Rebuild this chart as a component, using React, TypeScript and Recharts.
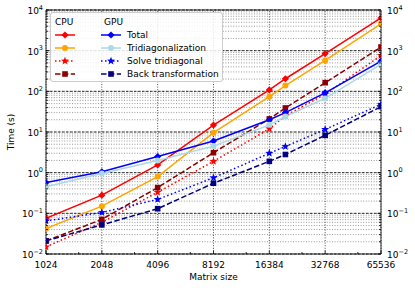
import { LineChart, Line, XAxis, YAxis, CartesianGrid, ReferenceLine } from 'recharts'

// matrix sizes (x) and timings in seconds (y)
const sizes = [1024, 2048, 4096, 8192, 16384, 20000, 32768, 65536]

const cpuTotal = [0.075, 0.28, 1.55, 14.8, 108, 204, 850, 6400]
const cpuTridiag = [0.042, 0.15, 0.8, 9.6, 74, 139, 575, 4570]
const cpuSolve = [0.015, 0.06, 0.33, 1.9, 12, 25, 85, 760]
const cpuBack = [0.021, 0.071, 0.43, 3.1, 21, 39, 163, 1230]
const gpuTotal = [0.57, 1.05, 2.5, 6.0, 20, 30, 92, 550]
const gpuTridiag = [0.45, 0.95, 2.0, 4.5, 15, 24, 67, 460]
const gpuSolve = [0.065, 0.105, 0.22, 0.75, 3.0, 4.4, 11.6, 48]
const gpuBack = [0.021, 0.052, 0.13, 0.55, 1.9, 2.8, 8.3, 42]

const xMajor = [1024, 2048, 4096, 8192, 16384, 32768, 65536]
const xMinor = [1536, 3072, 6144, 12288, 24576, 49152]
const yMajorExp = [-2, -1, 0, 1, 2, 3, 4]
const yMinorMult = [2, 3, 4, 5, 6, 7, 8, 9]
const rowLabels = ['Total', 'Tridiagonalization', 'Solve tridiagonal', 'Back transformation']

const FONT = '"DejaVu Sans", sans-serif'
const DOTTED = '1.5 2.5'
const DASHED = '5.5 2.4'

const yMajor = yMajorExp.map(e => Math.pow(10, e))
const yMinor = yMajorExp.slice(0, -1).flatMap(e => yMinorMult.map(m => m * Math.pow(10, e)))
const yTicks = [...yMajor, ...yMinor].sort((a, b) => a - b)
const xTicks = [...xMajor, ...xMinor].sort((a, b) => a - b)

const series = [
  { key: 'cpuTotal', values: cpuTotal, color: '#ff0000', dash: undefined, marker: 'diamond' },
  { key: 'cpuTridiag', values: cpuTridiag, color: '#ffa500', dash: undefined, marker: 'circle' },
  { key: 'cpuSolve', values: cpuSolve, color: '#ff0000', dash: DOTTED, marker: 'star' },
  { key: 'cpuBack', values: cpuBack, color: '#8b0000', dash: DASHED, marker: 'square' },
  { key: 'gpuTotal', values: gpuTotal, color: '#0000ff', dash: undefined, marker: 'diamond' },
  { key: 'gpuTridiag', values: gpuTridiag, color: '#add8e6', dash: undefined, marker: 'circle' },
  { key: 'gpuSolve', values: gpuSolve, color: '#0000ff', dash: DOTTED, marker: 'star' },
  { key: 'gpuBack', values: gpuBack, color: '#000080', dash: DASHED, marker: 'square' },
]

const rows = sizes.map((n, i) => {
  const r: Record<string, number> = { n }
  series.forEach(s => { r[s.key] = s.values[i] })
  return r
})

function Marker({ kind, cx, cy, color }: { kind: string; cx: number; cy: number; color: string }) {
  if (kind === 'diamond') {
    const d = 3.6
    return <path d={`M${cx},${cy - d}L${cx + d},${cy}L${cx},${cy + d}L${cx - d},${cy}Z`} fill={color} />
  }
  if (kind === 'circle') return <circle cx={cx} cy={cy} r={3} fill={color} />
  if (kind === 'square') return <rect x={cx - 2.8} y={cy - 2.8} width={5.6} height={5.6} fill={color} />
  // star
  const pts: string[] = []
  for (let k = 0; k < 10; k++) {
    const r = k % 2 === 0 ? 4.2 : 1.8
    const a = -Math.PI / 2 + (k * Math.PI) / 5
    pts.push(`${cx + r * Math.cos(a)},${cy + r * Math.sin(a)}`)
  }
  return <polygon points={pts.join(' ')} fill={color} />
}

function XTick(props: any) {
  const { x, y, payload } = props
  const major = xMajor.includes(payload.value)
  return (
    <g>
      <line x1={x} x2={x} y1={y} y2={y - (major ? 3.5 : 2)} stroke="#000" strokeWidth={0.8} />
      {major && (
        <text x={x} y={y + 14} textAnchor="middle" fontSize={9} fontFamily={FONT} fill="#000">
          {payload.value}
        </text>
      )}
    </g>
  )
}

function expLabel(v: number) {
  const e = Math.round(Math.log10(v))
  return e < 0 ? `\u2212${-e}` : `${e}`
}

function YTick(props: any) {
  const { x, y, payload, side } = props
  const v = payload.value
  const major = yMajor.some(m => Math.abs(m - v) < m * 1e-6)
  const dir = side === 'left' ? 1 : -1
  return (
    <g>
      <line x1={x} x2={x + dir * (major ? 3.5 : 2)} y1={y} y2={y} stroke="#000" strokeWidth={0.8} />
      {major && (
        <text
          x={side === 'left' ? x - 3 : x + 6}
          y={y + 4}
          textAnchor={side === 'left' ? 'end' : 'start'}
          fontSize={9}
          fontFamily={FONT}
          fill="#000"
        >
          <tspan>10</tspan>
          <tspan dy={-4.5} fontSize={6.5}>{expLabel(v)}</tspan>
        </text>
      )}
    </g>
  )
}

function LegendBox() {
  const rowY = [22, 35, 48, 61]
  const cpu = series.slice(0, 4)
  const gpu = series.slice(4)
  const handle = (s: typeof series[number], x0: number, y: number) => (
    <g key={s.key}>
      <line x1={x0} x2={x0 + 20} y1={y} y2={y} stroke={s.color} strokeWidth={1.5} strokeDasharray={s.dash} />
      <Marker kind={s.marker} cx={x0 + 10} cy={y} color={s.color} />
    </g>
  )
  return (
    <div
      style={{
        position: 'absolute', left: 50, top: 12, width: 173, height: 70,
        border: '1px solid #cccccc', borderRadius: 3, background: 'rgba(255,255,255,0.85)',
        boxSizing: 'border-box',
      }}
    >
      <svg width={171} height={68} style={{ display: 'block' }}>
        <text x={4} y={12} fontSize={9} fontFamily={FONT}>CPU</text>
        <text x={53} y={12} fontSize={9} fontFamily={FONT}>GPU</text>
        {cpu.map((s, i) => handle(s, 4, rowY[i]))}
        {gpu.map((s, i) => handle(s, 50, rowY[i]))}
        {rowLabels.map((t, i) => (
          <text key={t} x={76} y={rowY[i] + 3.3} fontSize={9} fontFamily={FONT}>{t}</text>
        ))}
      </svg>
    </div>
  )
}

export default function App() {
  return (
    <div style={{ position: 'absolute', left: 0, top: 0, width: 415, height: 288, background: '#fff' }}>
      <LineChart width={415} height={288} data={rows} margin={{ top: 10, right: 0, bottom: 0, left: 0 }}>
        <CartesianGrid vertical={false} stroke="#555" strokeWidth={0.6} strokeDasharray="1 1.6" />
        {xMajor.map(v => (
          <ReferenceLine key={`vx${v}`} x={v} stroke="#000" strokeWidth={0.7} strokeDasharray="1 1.6" />
        ))}
        {yMajor.map(v => (
          <ReferenceLine key={`hy${v}`} y={v} stroke="#000" strokeWidth={0.8} strokeDasharray="2.5 1.5" />
        ))}
        <ReferenceLine y={10000} stroke="#000" strokeWidth={0.8} />
        <XAxis
          dataKey="n"
          type="number"
          scale="log"
          domain={[1024, 65536]}
          ticks={xTicks}
          interval={0}
          height={34}
          tickSize={0}
          tickMargin={0}
          tickLine={false}
          axisLine={{ stroke: '#000', strokeWidth: 0.8 }}
          tick={<XTick />}
          allowDataOverflow
        />
        <YAxis
          type="number"
          scale="log"
          domain={[0.01, 10000]}
          ticks={yTicks}
          interval={0}
          width={46}
          tickSize={0}
          tickMargin={0}
          tickLine={false}
          axisLine={{ stroke: '#000', strokeWidth: 0.8 }}
          tick={<YTick side="left" />}
          allowDataOverflow
        />
        <YAxis
          yAxisId="right"
          orientation="right"
          type="number"
          scale="log"
          domain={[0.01, 10000]}
          ticks={yTicks}
          interval={0}
          width={34}
          tickSize={0}
          tickMargin={0}
          tickLine={false}
          axisLine={{ stroke: '#000', strokeWidth: 0.8 }}
          tick={<YTick side="right" />}
          allowDataOverflow
        />
        {series.map(s => (
          <Line
            key={s.key}
            dataKey={s.key}
            type="linear"
            stroke={s.color}
            strokeWidth={1.5}
            strokeDasharray={s.dash}
            isAnimationActive={false}
            dot={(p: any) => <Marker key={`${s.key}-${p.index}`} kind={s.marker} cx={p.cx} cy={p.cy} color={s.color} />}
            activeDot={false}
          />
        ))}
      </LineChart>
      <LegendBox />
      <div
        style={{
          position: 'absolute', left: 11, top: 132, transform: 'translate(-50%, -50%) rotate(-90deg)',
          fontFamily: FONT, fontSize: 9, whiteSpace: 'nowrap',
        }}
      >
        Time (s)
      </div>
      <div
        style={{
          position: 'absolute', left: 213.5, top: 277, transform: 'translate(-50%, -50%)',
          fontFamily: FONT, fontSize: 9, whiteSpace: 'nowrap',
        }}
      >
        Matrix size
      </div>
    </div>
  )
}
